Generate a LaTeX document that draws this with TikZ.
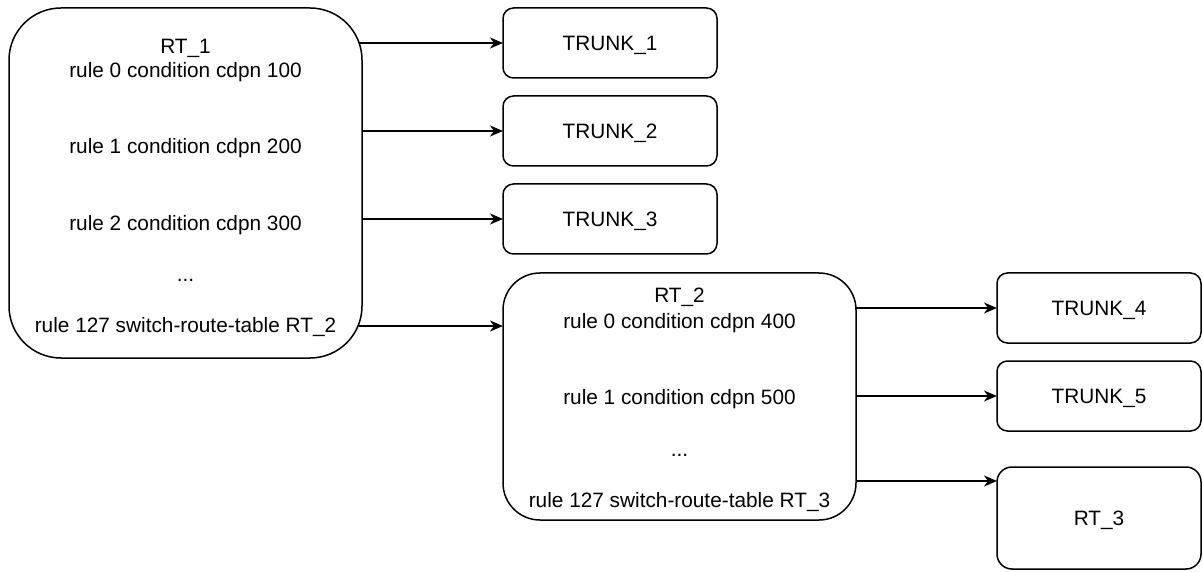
\documentclass[tikz,border=0pt]{standalone}
\usepackage{fontspec}
\setmainfont{Liberation Sans}
\usetikzlibrary{arrows.meta}
\begin{document}
\begin{tikzpicture}[x=1pt,y=-1pt,
  box/.style={draw, line width=1.5pt, rounded corners=#1, anchor=north west,
    inner sep=0pt, outer sep=0pt, font=\fontsize{20.8}{24}\selectfont,
    text height=14.9pt, text depth=0pt},
  box/.default=10.5pt,
  txt/.style={anchor=base, inner sep=0pt, font=\fontsize{20.8}{24}\selectfont},
  arr/.style={-{Stealth[length=13pt,width=11pt,inset=4pt]}, line width=1.5pt}]
\useasboundingbox (0,0) rectangle (1203,572);

% route table 1
\node[box=52pt, minimum width=353pt, minimum height=350pt] (rt1) at (9,8) {};
\node[txt] (rt1a) at (185.5,54) {RT\_1};
\node[txt] (rt1b) at (185.5,78) {rule 0 condition cdpn 100};
\node[txt] (rt1c) at (185.5,154) {rule 1 condition cdpn 200};
\node[txt] (rt1d) at (185.5,231) {rule 2 condition cdpn 300};
\node[txt] (rt1e) at (185.5,282) {...};
\node[txt] (rt1f) at (185.5,332) {rule 127 switch-route-table RT\_2};

% trunks 1-3
\node[box, minimum width=214pt, minimum height=70pt] (t1) at (503,8) {TRUNK\_1};
\node[box, minimum width=214pt, minimum height=70pt] (t2) at (503,96) {TRUNK\_2};
\node[box, minimum width=214pt, minimum height=70pt] (t3) at (503,184) {TRUNK\_3};

% route table 2
\node[box=37pt, minimum width=353pt, minimum height=247pt] (rt2) at (503,273) {};
\node[txt] (rt2a) at (679.5,302) {RT\_2};
\node[txt] (rt2b) at (679.5,328) {rule 0 condition cdpn 400};
\node[txt] (rt2c) at (679.5,404) {rule 1 condition cdpn 500};
\node[txt] (rt2d) at (679.5,456) {...};
\node[txt] (rt2e) at (679.5,507) {rule 127 switch-route-table RT\_3};

% trunks 4-5 and route table 3
\node[box, minimum width=204pt, minimum height=70pt] (t4) at (997,273) {TRUNK\_4};
\node[box, minimum width=204pt, minimum height=70pt] (t5) at (997,361) {TRUNK\_5};
\node[box=15pt, minimum width=204pt, minimum height=102pt] (rt3) at (997,467) {RT\_3};

\coordinate (j1) at (0,326);
\coordinate (j2) at (0,481);

% connectors
\draw[arr] ([xshift=-3pt]rt1.east |- t1.west) -- (t1.west);
\draw[arr] (rt1.east |- t2.west) -- (t2.west);
\draw[arr] (rt1.east |- t3.west) -- (t3.west);
\draw[arr] ([xshift=-3pt]rt1.east |- j1) -- (rt2.west |- j1);
\draw[arr] (rt2.east |- t4.west) -- (t4.west);
\draw[arr] (rt2.east |- t5.west) -- (t5.west);
\draw[arr] (rt2.east |- j2) -- (rt3.west |- j2);
\end{tikzpicture}
\end{document}
